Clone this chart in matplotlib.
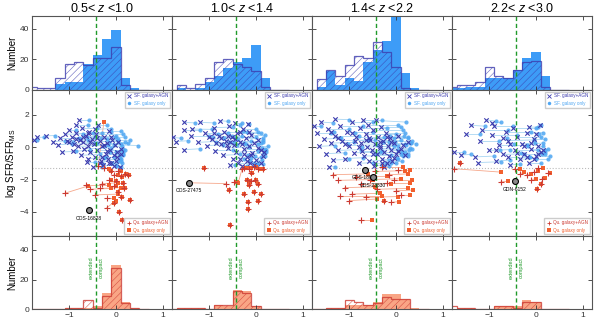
import numpy as np
import matplotlib.pyplot as plt
from matplotlib.lines import Line2D

plt.rcParams['font.family'] = ['Liberation Sans', 'DejaVu Sans']
plt.rcParams['mathtext.fontset'] = 'custom'
plt.rcParams['mathtext.rm'] = 'Liberation Sans'
plt.rcParams['mathtext.it'] = 'Liberation Sans:italic'
plt.rcParams['hatch.linewidth'] = 0.4
plt.rcParams['axes.unicode_minus'] = True

# redshift bins
titles = ['0.5< $z$ <1.0', '1.0< $z$ <1.4', '1.4< $z$ <2.2', '2.2< $z$ <3.0']

# histogram bins (log size offset)
bin_edges = [-1.9, -1.7, -1.5, -1.3, -1.1, -0.9, -0.7, -0.5, -0.3, -0.1, 0.1, 0.3, 0.5, 0.7]

# top row: star-forming galaxies
sf_only_hist = [
    [0, 0, 0, 4, 5, 5, 17, 23, 33, 39, 8, 1, 0],
    [0, 1, 0, 1, 5, 9, 14, 18, 21, 29, 8, 0, 0],
    [0, 2, 12, 3, 8, 6, 18, 26, 32, 48, 11, 1, 0],
    [1, 1, 2, 2, 8, 8, 8, 13, 21, 25, 9, 0, 0],
]
sf_agn_hist = [
    [2, 1, 1, 8, 17, 18, 16, 21, 21, 28, 3, 0, 0],
    [0, 3, 1, 4, 8, 18, 20, 17, 15, 12, 2, 0, 0],
    [0, 7, 13, 9, 16, 22, 21, 31, 25, 15, 1, 0, 0],
    [2, 3, 3, 5, 15, 9, 8, 13, 18, 19, 2, 0, 0],
]

# bottom row: quiescent galaxies
qu_only_hist = [
    [0, 0, 0, 0, 1, 1, 1, 2, 11, 30, 5, 1, 0],
    [0, 1, 1, 1, 0, 3, 2, 13, 12, 2, 0, 0, 0],
    [0, 0, 1, 1, 3, 3, 3, 5, 10, 10, 7, 1, 0],
    [0, 1, 1, 0, 0, 2, 2, 2, 6, 5, 0, 0, 0],
]
qu_agn_hist = [
    [0, 0, 0, 0, 1, 1, 6, 1, 9, 28, 4, 1, 0],
    [0, 1, 1, 1, 0, 3, 3, 12, 11, 2, 0, 0, 0],
    [0, 0, 1, 1, 6, 5, 3, 4, 8, 7, 7, 0, 0],
    [2, 1, 1, 0, 0, 2, 2, 1, 5, 5, 0, 0, 0],
]

# middle row: (x galaxy+AGN, y galaxy+AGN, x galaxy only, y galaxy only)
sf_pairs_1 = [
    (-1.76, 0.45, -1.70, 0.45), (-1.70, 0.60, -1.55, 0.62), (-1.50, 0.70, -1.30, 0.72),
    (-1.35, 0.35, -1.10, 0.38), (-1.25, 0.15, -0.95, 0.20), (-1.20, 0.55, -0.80, 0.55),
    (-1.10, 0.80, -0.70, 0.82), (-1.05, 0.40, -0.60, 0.45), (-1.00, 1.05, -0.85, 1.05),
    (-0.95, 0.65, -0.45, 0.65), (-0.92, -0.25, -0.55, -0.20), (-0.90, 0.20, -0.40, 0.25),
    (-0.85, 0.85, -0.30, 0.85), (-0.82, 0.05, -0.25, 0.10), (-0.80, 1.70, -0.58, 1.70),
    (-0.78, 0.45, -0.20, 0.50), (-0.75, -0.50, -0.35, -0.45), (-0.72, 1.20, -0.40, 1.20),
    (-0.70, 0.30, -0.15, 0.35), (-0.68, -0.10, -0.10, -0.05), (-0.65, 0.70, 0.00, 0.70),
    (-0.62, -0.90, -0.45, -0.90), (-0.60, 0.10, -0.05, 0.15), (-0.58, 0.95, -0.10, 0.95),
    (-0.55, -0.30, 0.00, -0.30), (-0.52, 0.50, 0.05, 0.50), (-0.50, -1.25, -0.30, -1.25),
    (-0.48, 0.20, 0.10, 0.20), (-0.45, -0.60, -0.05, -0.60), (-0.42, 0.80, 0.15, 0.80),
    (-0.40, -0.15, 0.10, -0.15), (-0.38, 1.40, -0.20, 1.40), (-0.35, 0.40, 0.05, 0.40),
    (-0.32, -0.85, 0.05, -0.85), (-0.30, 0.05, 0.12, 0.05), (-0.28, -1.10, 0.00, -1.10),
    (-0.25, 0.65, 0.20, 0.65), (-0.22, -0.40, 0.15, -0.40), (-0.20, 0.25, 0.25, 0.25),
    (-0.18, -0.70, 0.10, -0.70), (-0.15, 1.00, 0.10, 1.00), (-0.12, -0.20, 0.20, -0.20),
    (-0.10, -1.00, 0.12, -1.00), (-0.08, 0.45, 0.30, 0.45), (-0.05, -0.50, 0.08, -0.50),
    (-0.02, 0.15, 0.47, 0.10), (0.00, -0.85, 0.10, -0.85), (0.03, -0.30, 0.15, -0.30),
    (0.05, 0.35, 0.20, 0.35), (0.08, -1.20, 0.10, -1.20), (0.10, -0.10, 0.15, -0.10),
    (-1.15, -0.30, -0.85, -0.25), (-0.60, -0.70, -0.25, -0.65), (-0.85, 1.35, -0.60, 1.35),
    (-0.45, 1.10, -0.10, 1.15), (-0.30, -0.60, -0.22, -0.62), (-0.15, -0.95, -0.08, -0.98),
    (-0.05, -1.15, 0.02, -1.15), (0.02, -0.60, 0.08, -0.65), (-0.25, 0.15, -0.18, 0.12),
    (-0.40, 0.55, -0.32, 0.55), (-0.55, 0.30, -0.45, 0.28), (-0.70, 0.60, -0.62, 0.60),
    (-0.85, 0.50, -0.78, 0.48), (-1.00, 0.30, -0.92, 0.30), (-0.20, -0.25, -0.12, -0.28),
    (0.10, -0.45, 0.14, -0.48), (-0.35, -1.00, -0.28, -1.02), (-0.60, 0.85, -0.50, 0.88),
    (-0.10, 0.60, -0.02, 0.60),
]
sf_pairs_2 = [
    (-1.77, 0.60, -1.60, 0.55), (-1.72, 0.35, -1.45, 0.40), (-1.55, 1.05, -1.20, 1.05),
    (-1.54, 1.53, -1.30, 1.50), (-1.54, -0.15, -1.20, -0.10), (-1.40, 0.70, -1.00, 0.70),
    (-1.37, 1.12, -0.95, 1.10), (-1.25, 0.30, -0.85, 0.35), (-1.20, 1.53, -0.90, 1.50),
    (-1.10, 0.85, -0.60, 0.85), (-1.05, 0.10, -0.70, 0.15), (-0.95, 0.50, -0.45, 0.55),
    (-0.90, 1.20, -0.50, 1.25), (-0.87, -0.21, -0.50, -0.20), (-0.80, 0.70, -0.30, 0.70),
    (-0.77, 1.63, -0.60, 1.60), (-0.75, 0.20, -0.25, 0.25), (-0.70, -0.50, -0.35, -0.45),
    (-0.68, 0.95, -0.20, 0.95), (-0.65, 0.40, -0.10, 0.40), (-0.60, -0.05, -0.15, 0.00),
    (-0.58, 1.30, -0.35, 1.35), (-0.55, -1.13, -0.45, -1.10), (-0.52, 0.60, 0.00, 0.60),
    (-0.50, -0.70, -0.10, -0.65), (-0.48, 0.15, 0.05, 0.20), (-0.45, 1.50, -0.30, 1.50),
    (-0.42, -0.30, 0.05, -0.25), (-0.40, 0.85, 0.10, 0.85), (-0.38, -0.95, -0.05, -0.95),
    (-0.35, 0.30, 0.15, 0.35), (-0.30, -1.17, -0.20, -1.15), (-0.28, 1.10, 0.00, 1.10),
    (-0.25, -0.10, 0.20, -0.10), (-0.22, 0.55, 0.15, 0.55), (-0.20, -0.60, 0.10, -0.60),
    (-0.18, 1.43, -0.15, 1.43), (-0.15, 0.05, 0.25, 0.05), (-0.12, -1.00, 0.05, -1.00),
    (-0.10, 0.75, 0.20, 0.75), (-0.08, -0.35, 0.18, -0.35), (-0.05, 0.25, 0.10, 0.25),
    (0.00, -0.80, 0.12, -0.80), (0.05, 0.45, 0.15, 0.45), (0.10, -0.20, 0.22, -0.20),
    (0.15, -0.55, 0.20, -0.55), (-0.62, 0.15, -0.40, 0.15), (-0.35, -0.75, -0.25, -0.70),
    (-0.85, 0.25, -0.55, 0.30), (-0.15, 0.95, 0.05, 0.95), (-0.20, -0.85, -0.12, -0.88),
    (-0.05, -1.10, 0.02, -1.12), (0.10, -1.00, 0.15, -1.02), (-0.30, 0.20, -0.22, 0.22),
    (-0.45, 0.50, -0.38, 0.50), (-0.60, 0.70, -0.52, 0.70), (-0.75, 0.55, -0.68, 0.55),
    (-0.90, 0.85, -0.82, 0.82), (-0.10, -0.50, -0.02, -0.52), (0.05, -0.05, 0.12, -0.08),
    (-0.35, 0.95, -0.28, 0.98), (-0.55, 0.30, -0.48, 0.30), (0.18, -0.30, 0.22, -0.32),
    (-0.25, -0.45, -0.18, -0.48), (-1.00, 0.60, -0.92, 0.62),
]
sf_pairs_3 = [
    (-1.75, 1.30, -1.60, 1.30), (-1.70, 0.85, -1.40, 0.85), (-1.65, 0.05, -1.30, 0.10),
    (-1.60, 1.55, -1.35, 1.50), (-1.55, 0.50, -1.20, 0.55), (-1.50, -0.40, -1.10, -0.35),
    (-1.45, 1.10, -1.00, 1.10), (-1.43, -1.22, -1.30, -1.20), (-1.40, 0.25, -0.90, 0.30),
    (-1.30, 1.73, -1.00, 1.70), (-1.30, 0.70, -0.80, 0.70), (-1.25, -0.20, -0.75, -0.15),
    (-1.20, 1.30, -0.70, 1.30), (-1.15, 0.40, -0.60, 0.45), (-1.10, -0.70, -0.70, -0.65),
    (-1.05, 0.95, -0.50, 0.95), (-1.00, 0.10, -0.40, 0.15), (-0.95, 1.55, -0.50, 1.55),
    (-0.90, -0.35, -0.35, -0.30), (-0.85, 0.65, -0.25, 0.65), (-0.80, -1.00, -0.50, -0.95),
    (-0.78, 1.20, -0.20, 1.20), (-0.75, 0.25, -0.15, 0.30), (-0.70, 1.70, -0.30, 1.70),
    (-0.68, -0.55, -0.10, -0.50), (-0.65, 0.80, 0.00, 0.80), (-0.62, 0.00, -0.05, 0.05),
    (-0.60, 1.40, 0.05, 1.40), (-0.58, -0.85, -0.15, -0.80), (-0.55, 0.45, 0.10, 0.45),
    (-0.52, -0.20, 0.05, -0.15), (-0.50, 1.05, 0.15, 1.05), (-0.48, -1.15, -0.30, -1.10),
    (-0.45, 0.20, 0.20, 0.20), (-0.42, 1.65, 0.21, 1.55), (-0.40, -0.45, 0.10, -0.45),
    (-0.38, 0.65, 0.25, 0.65), (-0.35, -0.05, 0.30, -0.05), (-0.32, 1.25, 0.10, 1.25),
    (-0.30, -0.75, 0.05, -0.75), (-0.28, 0.40, 0.35, 0.40), (-0.25, -0.30, 0.20, -0.30),
    (-0.22, 0.90, 0.20, 0.90), (-0.20, -1.00, 0.00, -1.00), (-0.18, 0.10, 0.43, 0.21),
    (-0.15, -0.55, 0.15, -0.55), (-0.12, 0.55, 0.25, 0.55), (-0.10, -0.20, 0.28, -0.20),
    (-0.08, -0.85, 0.12, -0.85), (-0.05, 0.25, 0.32, 0.25), (0.00, -0.45, 0.25, -0.45),
    (0.05, 0.70, 0.18, 0.70), (0.10, -0.10, 0.35, -0.10), (-1.35, -0.80, -1.00, -0.75),
    (-0.88, 0.40, -0.45, 0.42), (-0.72, -0.25, -0.30, -0.25), (-0.58, 0.55, -0.05, 0.55),
    (-0.45, -0.95, -0.10, -0.95), (-0.35, 0.10, 0.05, 0.10), (-0.25, -1.20, -0.15, -1.15),
    (-0.10, 0.35, -0.02, 0.35), (0.05, -0.25, 0.12, -0.28), (-0.20, 0.65, -0.12, 0.68),
    (-0.35, 0.30, -0.28, 0.30), (-0.50, -0.40, -0.42, -0.42), (-0.65, 0.45, -0.58, 0.48),
    (-0.80, 0.00, -0.72, 0.02), (-0.95, 0.85, -0.88, 0.85), (-1.10, 0.20, -1.02, 0.22),
    (-1.25, 0.55, -1.18, 0.55), (-1.40, 0.95, -1.32, 0.95), (0.15, 0.15, 0.22, 0.12),
    (-0.05, -0.65, 0.02, -0.68), (0.20, -0.50, 0.25, -0.52), (-0.30, -0.95, -0.22, -0.98),
    (0.25, 0.30, 0.30, 0.28),
]
sf_pairs_4 = [
    (-1.76, -0.30, -1.55, -0.30), (-1.61, -0.48, -1.40, -0.45), (-1.51, 0.84, -1.20, 0.84),
    (-1.40, 1.35, -1.10, 1.30), (-1.30, -0.60, -0.90, -0.55), (-1.20, 0.40, -0.80, 0.40),
    (-1.15, 1.05, -0.60, 1.05), (-1.08, 1.69, -0.85, 1.60), (-1.00, -0.20, -0.55, -0.15),
    (-0.95, 0.75, -0.40, 0.75), (-0.90, 1.30, -0.50, 1.30), (-0.85, -0.85, -0.55, -0.80),
    (-0.80, 0.15, -0.20, 0.15), (-0.95, 1.50, -0.76, 1.53), (-0.70, -0.45, -0.25, -0.40),
    (-0.65, 0.95, -0.10, 0.95), (-0.60, 0.40, -0.05, 0.45), (-0.55, -1.10, -0.35, -1.05),
    (-0.50, 1.20, 0.00, 1.20), (-0.45, -0.20, 0.05, -0.20), (-0.40, 0.60, 0.10, 0.60),
    (-0.35, -0.75, 0.00, -0.70), (-0.30, 0.20, 0.15, 0.25), (-0.25, -0.40, 0.20, -0.40),
    (-0.16, 1.23, 0.05, 1.25), (-0.15, -0.95, 0.10, -0.95), (-0.10, -0.10, 0.25, -0.10),
    (0.09, 1.39, 0.10, 1.39), (-0.05, 0.50, 0.20, 0.50), (0.00, -0.55, 0.30, -0.55),
    (0.05, 0.05, 0.15, 0.05), (0.10, -0.30, 0.20, -0.30), (-1.25, -0.95, -0.75, -0.90),
    (-0.20, 0.85, 0.15, 0.90), (-0.60, -0.60, -0.15, -0.60), (-0.05, -0.75, 0.25, -0.75),
    (-0.10, 0.25, -0.02, 0.25), (0.05, -0.40, 0.12, -0.42), (-0.25, 0.05, -0.18, 0.08),
    (-0.40, -0.35, -0.32, -0.35), (-0.55, 0.20, -0.48, 0.22), (-0.70, 0.55, -0.62, 0.55),
    (0.15, -0.15, 0.20, -0.18), (-0.20, -0.60, -0.12, -0.62), (0.00, 0.80, 0.06, 0.82),
    (-0.85, -0.20, -0.78, -0.20),
]

qu_pairs_1 = [
    (-0.38, -1.15, -0.26, 1.55), (-1.10, -2.85, -0.60, -2.40), (-0.65, -2.35, -0.15, -2.35),
    (-0.55, -2.60, -0.10, -2.55), (-0.45, -2.95, 0.05, -2.90), (-0.35, -2.55, 0.10, -2.50),
    (-0.20, -3.75, 0.00, -3.30), (-0.10, -1.50, -0.10, -1.50), (-0.05, -1.70, 0.05, -1.75),
    (0.00, -2.10, 0.00, -2.10), (0.05, -1.45, 0.10, -1.45), (0.10, -1.80, 0.12, -1.85),
    (0.15, -2.20, 0.15, -2.20), (0.20, -1.65, 0.22, -1.65), (-0.05, -2.40, 0.00, -2.40),
    (0.05, -2.75, 0.05, -2.75), (0.10, -3.10, 0.12, -3.10), (-0.15, -2.05, -0.10, -2.05),
    (0.25, -1.75, 0.28, -1.75), (0.07, -4.00, 0.07, -4.00), (0.12, -4.50, 0.12, -4.50),
    (0.30, -3.25, 0.30, -3.25), (-0.20, -3.15, -0.05, -3.15), (-0.25, -1.30, -0.15, -1.35),
    (0.18, -2.50, 0.20, -2.50), (-0.30, -2.25, 0.05, -2.20), (-0.05, -3.45, -0.05, -3.45),
]
qu_pairs_2 = [
    (-0.65, -2.25, -1.43, -2.20), (-1.11, -1.30, -1.11, -1.30), (-0.47, -2.15, -0.40, -2.15),
    (-0.30, -1.35, -0.38, -2.20), (-0.58, -2.65, -0.58, -2.65), (-0.25, -1.30, -0.20, -1.30),
    (-0.15, -1.35, -0.10, -1.30), (-0.05, -1.25, 0.00, -1.25), (0.05, -1.35, 0.08, -1.35),
    (-0.20, -2.05, -0.20, -2.05), (-0.10, -2.10, -0.12, -2.10), (-0.02, -2.00, 0.00, -2.05),
    (-0.15, -2.35, -0.15, -2.35), (0.05, -2.30, 0.05, -2.30), (-0.05, -2.75, -0.05, -2.75),
    (0.10, -2.90, 0.10, -2.90), (-0.25, -2.90, -0.25, -2.90), (-0.17, -3.38, -0.17, -3.38),
    (-0.17, -3.85, -0.17, -3.85), (0.05, -3.30, 0.05, -3.30), (-0.55, -4.80, -0.55, -4.80),
    (-0.10, -1.60, -0.08, -1.60), (0.15, -1.35, 0.15, -1.35),
]
qu_pairs_3 = [
    (-1.36, -1.70, -0.60, -1.65), (-1.25, -2.05, -0.50, -2.00), (-1.10, -2.50, -0.45, -2.45),
    (-0.95, -2.90, -0.35, -2.85), (-1.00, -3.30, -0.40, -3.20), (-0.85, -1.85, -0.20, -1.80),
    (-0.75, -2.30, -0.10, -2.25), (-0.74, -4.50, -0.52, -4.50), (-0.65, -3.10, 0.05, -3.05),
    (-0.55, -2.00, 0.10, -1.95), (-0.45, -1.50, 0.20, -1.45), (-0.40, -2.60, 0.25, -2.55),
    (-0.30, -1.25, 0.15, -1.25), (-0.20, -2.20, 0.30, -2.20), (-0.10, -3.40, 0.07, -3.37),
    (0.00, -2.70, 0.36, -2.65), (-0.15, -1.70, 0.25, -1.65), (0.05, -1.40, 0.30, -1.40),
    (-0.25, -3.30, -0.25, -3.30), (0.10, -2.95, 0.30, -2.95), (-0.05, -2.00, 0.35, -2.00),
    (-1.20, -3.00, -0.30, -3.00),
]
qu_pairs_4 = [
    (-1.76, -1.33, -0.76, -1.54), (-1.62, -1.00, -1.62, -1.00), (-0.76, -2.15, -0.60, -2.10),
    (-0.34, -1.64, -0.25, -1.55), (-0.20, -1.70, -0.10, -1.65), (-0.05, -1.55, 0.05, -1.50),
    (0.03, -2.56, 0.03, -2.56), (0.13, -1.94, 0.20, -1.90), (0.05, -1.30, 0.15, -1.30),
    (-0.10, -2.00, 0.00, -1.95), (0.25, -1.60, 0.30, -1.60), (-0.45, -1.35, -0.35, -1.35),
    (0.10, -2.30, 0.10, -2.30),
]
sf_pairs = [sf_pairs_1, sf_pairs_2, sf_pairs_3, sf_pairs_4]
qu_pairs = [qu_pairs_1, qu_pairs_2, qu_pairs_3, qu_pairs_4]

# individually marked objects
marked_names = ['COS-16828', 'COS-27475', 'GDS-18069', 'GDS-23830', 'GDN-6152']
marked_col = [0, 1, 2, 2, 3]
marked_x = [-0.58, -1.43, -0.66, -0.50, -0.46]
marked_y = [-3.90, -2.20, -1.39, -1.84, -2.10]

size_cut = -0.42
ms_line = -1.3

sf_blue = '#3d9cf7'
sf_navy = '#3c3cae'
sf_light = '#4ea6f2'
qu_red = '#cc3a32'
qu_orange = '#f2602e'
qu_fill = '#f9a585'
green = '#1f9a2a'


def style_axis(ax):
    ax.set_xlim(-1.8, 1.2)
    ax.set_xticks([-1, 0, 1])
    ax.tick_params(direction='in', top=True, right=True, length=3, width=0.6,
                   labelsize=6, colors='#333333', pad=2)
    for sp in ax.spines.values():
        sp.set_color('#555555')
        sp.set_linewidth(0.8)
    ax.axvline(size_cut, color=green, ls='--', lw=1.0, dashes=(3, 2), zorder=5)


fig = plt.figure(figsize=(5.98, 3.23), dpi=100)
gs = fig.add_gridspec(3, 4, height_ratios=[1, 2, 1], left=0.0535, right=0.99,
                      top=0.949, bottom=0.042, hspace=0, wspace=0)

for c in range(4):
    ax_t = fig.add_subplot(gs[0, c])
    ax_m = fig.add_subplot(gs[1, c])
    ax_b = fig.add_subplot(gs[2, c])

    # --- star-forming histogram
    ax_t.stairs(sf_only_hist[c], bin_edges, fill=True, color=sf_blue, lw=0)
    ax_t.stairs(sf_agn_hist[c], bin_edges, fill=True, facecolor='none',
                edgecolor=sf_navy, hatch='/////', lw=0.9, alpha=0.8)
    ax_t.set_ylim(0, 48)
    ax_t.set_yticks([0, 20, 40])
    ax_t.set_title(titles[c], fontsize=9, pad=3)

    # --- quiescent histogram
    ax_b.stairs(qu_only_hist[c], bin_edges, fill=True, color=qu_fill, lw=0)
    ax_b.stairs(qu_agn_hist[c], bin_edges, fill=True, facecolor='none',
                edgecolor=qu_red, hatch='/////', lw=0.9, alpha=0.8)
    ax_b.set_ylim(0, 49)
    ax_b.set_yticks([0, 20, 40])
    ax_b.text(size_cut - 0.06, 28, 'extended', color=green, fontsize=4,
              rotation=90, ha='right', va='center')
    ax_b.text(size_cut + 0.06, 28, 'compact', color=green, fontsize=4,
              rotation=90, ha='left', va='center')

    # --- scatter panel
    sf = np.array(sf_pairs[c])
    qu = np.array(qu_pairs[c])
    ax_m.axhline(ms_line, color='#bbbbbb', ls=':', lw=0.8)
    for xa, ya, xo, yo in sf:
        ax_m.plot([xa, xo], [ya, yo], color='#a9d6f2', lw=0.6, zorder=1)
    for xa, ya, xo, yo in qu:
        ax_m.plot([xa, xo], [ya, yo], color='#f6a88c', lw=0.6, zorder=1)
    ax_m.scatter(sf[:, 2], sf[:, 3], marker='o', s=9, color=sf_light, lw=0, alpha=0.85, zorder=2)
    ax_m.scatter(sf[:, 0], sf[:, 1], marker='x', s=10, color=sf_navy, lw=0.8, zorder=3)
    ax_m.scatter(qu[:, 2], qu[:, 3], marker='s', s=10, color=qu_orange, lw=0, zorder=2)
    ax_m.scatter(qu[:, 0], qu[:, 1], marker='+', s=14, color=qu_red, lw=0.8, zorder=3)

    for name, mc, mx, my in zip(marked_names, marked_col, marked_x, marked_y):
        if mc != c:
            continue
        ax_m.scatter([mx], [my], s=18, facecolor='#8a8a8a', edgecolor='black', lw=0.8, zorder=6)
        ax_m.annotate(name, (mx, my), xytext=(0, -4), textcoords='offset points',
                      fontsize=3.6, ha='center', va='top', zorder=6)

    ax_m.set_ylim(-5.5, 3.55)
    ax_m.set_yticks([-4, -2, 0, 2])

    sf_handles = [Line2D([], [], marker='x', ls='none', color=sf_navy, ms=2.5, mew=0.6),
                  Line2D([], [], marker='o', ls='none', color=sf_light, ms=2.5, mew=0)]
    leg = ax_m.legend(sf_handles, ['SF. galaxy+AGN', 'SF. galaxy only'], loc='upper right',
                      fontsize=3.3, labelcolor=[sf_navy, sf_light], handlelength=1.2,
                      handletextpad=0.4, borderpad=0.4, borderaxespad=0.4,
                      framealpha=1, edgecolor='#cccccc', fancybox=False)
    ax_m.add_artist(leg)
    qu_handles = [Line2D([], [], marker='+', ls='none', color=qu_red, ms=3, mew=0.6),
                  Line2D([], [], marker='s', ls='none', color=qu_orange, ms=2.5, mew=0)]
    ax_m.legend(qu_handles, ['Qu. galaxy+AGN', 'Qu. galaxy only'], loc='lower right',
                fontsize=3.3, labelcolor=[qu_red, qu_orange], handlelength=1.2,
                handletextpad=0.4, borderpad=0.4, borderaxespad=0.4,
                framealpha=1, edgecolor='#cccccc', fancybox=False)

    for ax in (ax_t, ax_m, ax_b):
        style_axis(ax)
    ax_t.tick_params(labelbottom=False)
    ax_m.tick_params(labelbottom=False)
    if c == 0:
        ax_t.set_ylabel('Number', fontsize=7, labelpad=2)
        ax_m.set_ylabel('log SFR/SFR$_{\\rm MS}$', fontsize=7, labelpad=1)
        ax_b.set_ylabel('Number', fontsize=7, labelpad=2)
    else:
        for ax in (ax_t, ax_m, ax_b):
            ax.tick_params(labelleft=False)

fig.savefig('out.png', dpi=100)
